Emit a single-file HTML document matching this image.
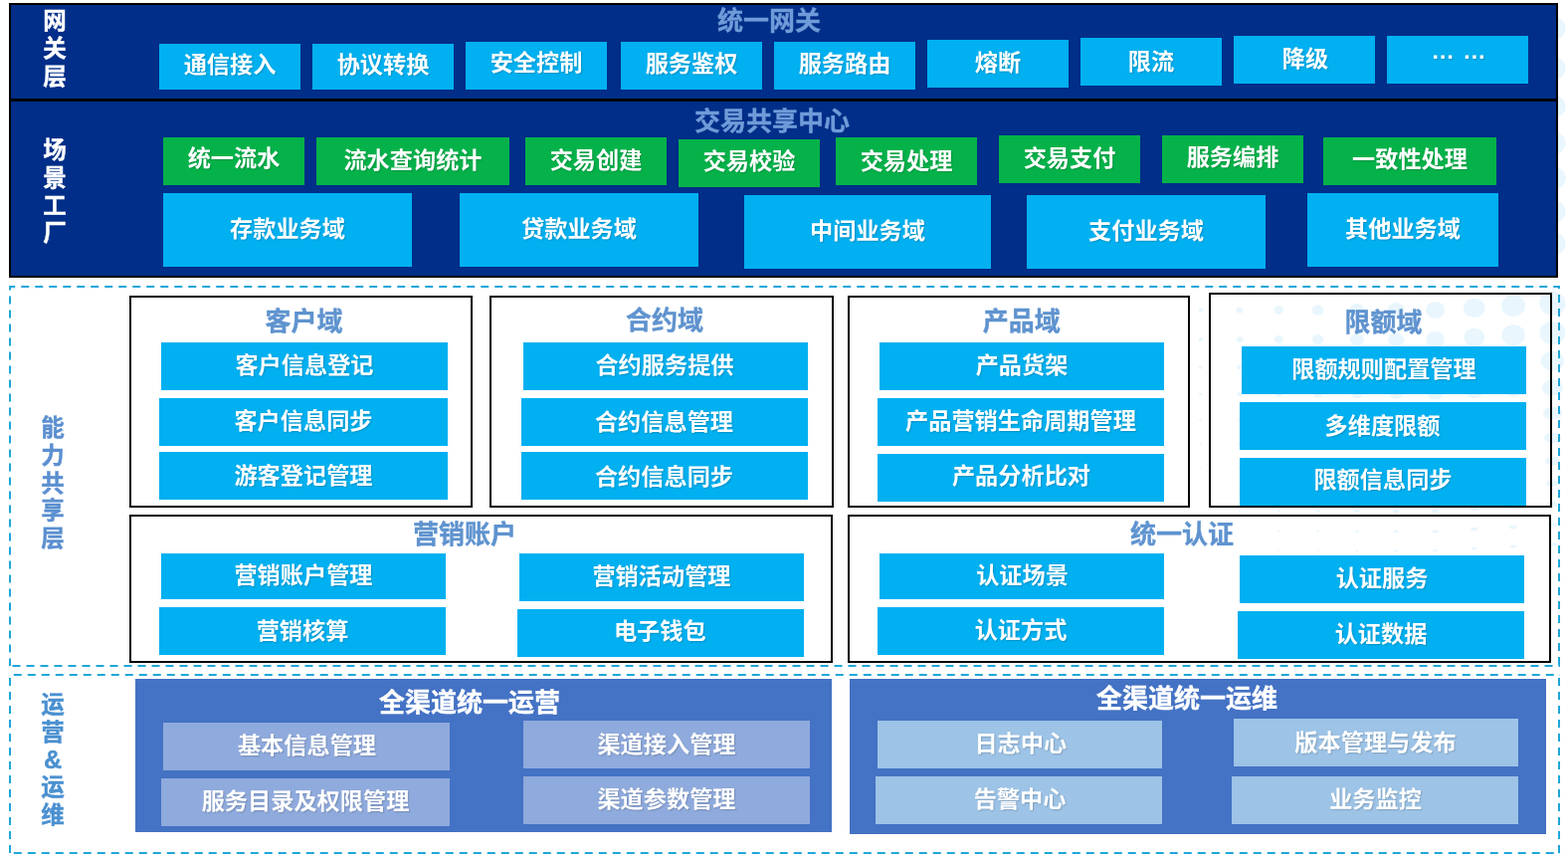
<!DOCTYPE html>
<html lang="zh-CN"><head><meta charset="utf-8"><title>架构图</title>
<style>
html,body{margin:0;padding:0;background:#fff;}
body{width:1576px;height:864px;position:relative;overflow:hidden;font-family:"Liberation Sans", "Noto Sans CJK SC", sans-serif;}
.b{position:absolute;box-sizing:border-box;display:flex;align-items:center;justify-content:center;white-space:nowrap;}
.b span{display:block;line-height:1;filter:blur(0.35px);text-shadow:1px 1px 1.5px rgba(0,0,0,.18);}
.t{-webkit-text-stroke:0.35px currentColor;filter:blur(0.35px);position:absolute;transform:translate(-50%,-50%);white-space:nowrap;line-height:1;}
.v{-webkit-text-stroke:0.4px currentColor;filter:blur(0.35px);position:absolute;transform:translate(-50%,-50%);font-weight:700;text-align:center;width:1.3em;word-break:break-all;white-space:normal;}
.v .amp{font-size:1.07em;line-height:0;}
.ov{position:absolute;left:0;top:0;pointer-events:none;}
</style></head><body>
<svg class="ov" width="1576" height="864" viewBox="0 0 1576 864"><g fill="#e9f6fd"><ellipse cx="1206.7" cy="35.0" rx="2.3" ry="2.1"/><ellipse cx="1246.0" cy="35.0" rx="3.5" ry="3.1"/><ellipse cx="1285.3" cy="35.0" rx="4.7" ry="4.2"/><ellipse cx="1324.6" cy="35.0" rx="5.9" ry="5.3"/><ellipse cx="1363.9" cy="35.0" rx="7.2" ry="6.4"/><ellipse cx="1403.2" cy="35.0" rx="8.4" ry="7.5"/><ellipse cx="1442.5" cy="35.0" rx="9.6" ry="8.6"/><ellipse cx="1481.8" cy="32.8" rx="10.8" ry="9.7"/><ellipse cx="1521.1" cy="30.7" rx="12.0" ry="10.8"/><ellipse cx="1560.4" cy="28.5" rx="13.2" ry="11.9"/><ellipse cx="1599.7" cy="26.3" rx="14.5" ry="13.0"/><ellipse cx="1206.7" cy="75.1" rx="2.3" ry="2.1"/><ellipse cx="1246.0" cy="75.1" rx="3.5" ry="3.1"/><ellipse cx="1285.3" cy="75.1" rx="4.7" ry="4.2"/><ellipse cx="1324.6" cy="75.1" rx="5.9" ry="5.3"/><ellipse cx="1363.9" cy="75.1" rx="7.2" ry="6.4"/><ellipse cx="1403.2" cy="75.1" rx="8.4" ry="7.5"/><ellipse cx="1442.5" cy="75.1" rx="9.6" ry="8.6"/><ellipse cx="1481.8" cy="72.9" rx="10.8" ry="9.7"/><ellipse cx="1521.1" cy="70.8" rx="12.0" ry="10.8"/><ellipse cx="1560.4" cy="68.6" rx="13.2" ry="11.9"/><ellipse cx="1599.7" cy="66.5" rx="14.5" ry="13.0"/><ellipse cx="1206.7" cy="113.5" rx="2.3" ry="2.1"/><ellipse cx="1246.0" cy="113.5" rx="3.5" ry="3.1"/><ellipse cx="1285.3" cy="113.5" rx="4.7" ry="4.2"/><ellipse cx="1324.6" cy="113.5" rx="5.9" ry="5.3"/><ellipse cx="1363.9" cy="113.5" rx="7.2" ry="6.4"/><ellipse cx="1403.2" cy="113.5" rx="8.4" ry="7.5"/><ellipse cx="1442.5" cy="113.5" rx="9.6" ry="8.6"/><ellipse cx="1481.8" cy="111.3" rx="10.8" ry="9.7"/><ellipse cx="1521.1" cy="109.2" rx="12.0" ry="10.8"/><ellipse cx="1560.4" cy="107.0" rx="13.2" ry="11.9"/><ellipse cx="1599.7" cy="104.9" rx="14.5" ry="13.0"/><ellipse cx="1206.7" cy="150.2" rx="2.3" ry="2.1"/><ellipse cx="1246.0" cy="150.2" rx="3.5" ry="3.1"/><ellipse cx="1285.3" cy="150.2" rx="4.7" ry="4.2"/><ellipse cx="1324.6" cy="150.2" rx="5.9" ry="5.3"/><ellipse cx="1363.9" cy="150.2" rx="7.2" ry="6.4"/><ellipse cx="1403.2" cy="150.2" rx="8.4" ry="7.5"/><ellipse cx="1442.5" cy="150.2" rx="9.6" ry="8.6"/><ellipse cx="1481.8" cy="148.1" rx="10.8" ry="9.7"/><ellipse cx="1521.1" cy="145.9" rx="12.0" ry="10.8"/><ellipse cx="1560.4" cy="143.8" rx="13.2" ry="11.9"/><ellipse cx="1599.7" cy="141.6" rx="14.5" ry="13.0"/><ellipse cx="1206.7" cy="185.4" rx="2.3" ry="2.1"/><ellipse cx="1246.0" cy="185.4" rx="3.5" ry="3.1"/><ellipse cx="1285.3" cy="185.4" rx="4.7" ry="4.2"/><ellipse cx="1324.6" cy="185.4" rx="5.9" ry="5.3"/><ellipse cx="1363.9" cy="185.4" rx="7.2" ry="6.4"/><ellipse cx="1403.2" cy="185.4" rx="8.4" ry="7.5"/><ellipse cx="1442.5" cy="185.4" rx="9.6" ry="8.6"/><ellipse cx="1481.8" cy="183.2" rx="10.8" ry="9.7"/><ellipse cx="1521.1" cy="181.1" rx="12.0" ry="10.8"/><ellipse cx="1560.4" cy="178.9" rx="13.2" ry="11.9"/><ellipse cx="1599.7" cy="176.7" rx="14.5" ry="13.0"/><ellipse cx="1206.7" cy="219.0" rx="2.3" ry="2.1"/><ellipse cx="1246.0" cy="219.0" rx="3.5" ry="3.1"/><ellipse cx="1285.3" cy="219.0" rx="4.7" ry="4.2"/><ellipse cx="1324.6" cy="219.0" rx="5.9" ry="5.3"/><ellipse cx="1363.9" cy="219.0" rx="7.2" ry="6.4"/><ellipse cx="1403.2" cy="219.0" rx="8.4" ry="7.5"/><ellipse cx="1442.5" cy="219.0" rx="9.6" ry="8.6"/><ellipse cx="1481.8" cy="216.9" rx="10.8" ry="9.7"/><ellipse cx="1521.1" cy="214.7" rx="12.0" ry="10.8"/><ellipse cx="1560.4" cy="212.6" rx="13.2" ry="11.9"/><ellipse cx="1599.7" cy="210.4" rx="14.5" ry="13.0"/><ellipse cx="1206.7" cy="251.2" rx="2.3" ry="2.1"/><ellipse cx="1246.0" cy="251.2" rx="3.5" ry="3.1"/><ellipse cx="1285.3" cy="251.2" rx="4.7" ry="4.2"/><ellipse cx="1324.6" cy="251.2" rx="5.9" ry="5.3"/><ellipse cx="1363.9" cy="251.2" rx="7.2" ry="6.4"/><ellipse cx="1403.2" cy="251.2" rx="8.4" ry="7.5"/><ellipse cx="1442.5" cy="251.2" rx="9.6" ry="8.6"/><ellipse cx="1481.8" cy="249.1" rx="10.8" ry="9.7"/><ellipse cx="1521.1" cy="246.9" rx="12.0" ry="10.8"/><ellipse cx="1560.4" cy="244.8" rx="13.2" ry="11.9"/><ellipse cx="1599.7" cy="242.6" rx="14.5" ry="13.0"/><ellipse cx="1599.7" cy="273.4" rx="14.5" ry="13.0"/><ellipse cx="1206.7" cy="311.5" rx="2.3" ry="2.1"/><ellipse cx="1246.0" cy="311.5" rx="3.5" ry="3.1"/><ellipse cx="1285.3" cy="311.5" rx="4.7" ry="4.2"/><ellipse cx="1324.6" cy="311.5" rx="5.9" ry="5.3"/><ellipse cx="1363.9" cy="311.5" rx="7.2" ry="6.4"/><ellipse cx="1403.2" cy="311.5" rx="8.4" ry="7.5"/><ellipse cx="1442.5" cy="311.5" rx="9.6" ry="8.6"/><ellipse cx="1481.8" cy="309.4" rx="10.8" ry="9.7"/><ellipse cx="1521.1" cy="307.2" rx="12.0" ry="10.8"/><ellipse cx="1560.4" cy="305.0" rx="13.2" ry="11.9"/><ellipse cx="1599.7" cy="302.9" rx="14.5" ry="13.0"/><ellipse cx="1206.7" cy="341.0" rx="2.2" ry="1.9"/><ellipse cx="1246.0" cy="341.0" rx="3.4" ry="2.9"/><ellipse cx="1285.3" cy="341.0" rx="4.5" ry="4.0"/><ellipse cx="1324.6" cy="341.0" rx="5.7" ry="5.0"/><ellipse cx="1363.9" cy="341.0" rx="6.9" ry="6.0"/><ellipse cx="1403.2" cy="341.0" rx="8.1" ry="7.0"/><ellipse cx="1442.5" cy="341.0" rx="9.2" ry="8.1"/><ellipse cx="1481.8" cy="338.8" rx="10.5" ry="9.2"/><ellipse cx="1521.1" cy="336.7" rx="11.8" ry="10.4"/><ellipse cx="1560.4" cy="334.5" rx="13.0" ry="11.6"/><ellipse cx="1599.7" cy="332.4" rx="14.4" ry="12.8"/><ellipse cx="1206.7" cy="369.1" rx="2.0" ry="1.6"/><ellipse cx="1246.0" cy="369.1" rx="3.0" ry="2.4"/><ellipse cx="1285.3" cy="369.1" rx="4.1" ry="3.3"/><ellipse cx="1324.6" cy="369.1" rx="5.2" ry="4.1"/><ellipse cx="1363.9" cy="369.1" rx="6.2" ry="5.0"/><ellipse cx="1403.2" cy="369.1" rx="7.3" ry="5.8"/><ellipse cx="1442.5" cy="369.1" rx="8.3" ry="6.7"/><ellipse cx="1481.8" cy="367.0" rx="9.5" ry="7.7"/><ellipse cx="1521.1" cy="364.8" rx="10.6" ry="8.6"/><ellipse cx="1560.4" cy="362.7" rx="11.8" ry="9.7"/><ellipse cx="1599.7" cy="360.5" rx="13.0" ry="10.7"/><ellipse cx="1206.7" cy="396.0" rx="1.8" ry="1.3"/><ellipse cx="1246.0" cy="396.0" rx="2.7" ry="2.0"/><ellipse cx="1285.3" cy="396.0" rx="3.7" ry="2.7"/><ellipse cx="1324.6" cy="396.0" rx="4.6" ry="3.4"/><ellipse cx="1363.9" cy="396.0" rx="5.6" ry="4.1"/><ellipse cx="1403.2" cy="396.0" rx="6.5" ry="4.8"/><ellipse cx="1442.5" cy="396.0" rx="7.5" ry="5.5"/><ellipse cx="1481.8" cy="393.9" rx="8.5" ry="6.3"/><ellipse cx="1521.1" cy="391.7" rx="9.6" ry="7.1"/><ellipse cx="1560.4" cy="389.6" rx="10.6" ry="8.0"/><ellipse cx="1599.7" cy="387.4" rx="11.7" ry="8.8"/><ellipse cx="1206.7" cy="421.7" rx="1.6" ry="1.1"/><ellipse cx="1246.0" cy="421.7" rx="2.4" ry="1.6"/><ellipse cx="1285.3" cy="421.7" rx="3.3" ry="2.2"/><ellipse cx="1324.6" cy="421.7" rx="4.1" ry="2.8"/><ellipse cx="1363.9" cy="421.7" rx="5.0" ry="3.3"/><ellipse cx="1403.2" cy="421.7" rx="5.8" ry="3.9"/><ellipse cx="1442.5" cy="421.7" rx="6.7" ry="4.5"/><ellipse cx="1481.8" cy="419.6" rx="7.6" ry="5.1"/><ellipse cx="1521.1" cy="417.4" rx="8.5" ry="5.8"/><ellipse cx="1560.4" cy="415.2" rx="9.5" ry="6.5"/><ellipse cx="1599.7" cy="413.1" rx="10.5" ry="7.2"/><ellipse cx="1206.7" cy="446.2" rx="1.4" ry="0.9"/><ellipse cx="1246.0" cy="446.2" rx="2.1" ry="1.3"/><ellipse cx="1285.3" cy="446.2" rx="2.9" ry="1.8"/><ellipse cx="1324.6" cy="446.2" rx="3.6" ry="2.2"/><ellipse cx="1363.9" cy="446.2" rx="4.4" ry="2.7"/><ellipse cx="1403.2" cy="446.2" rx="5.1" ry="3.1"/><ellipse cx="1442.5" cy="446.2" rx="5.9" ry="3.6"/><ellipse cx="1481.8" cy="444.1" rx="6.7" ry="4.1"/><ellipse cx="1521.1" cy="441.9" rx="7.5" ry="4.7"/><ellipse cx="1560.4" cy="439.8" rx="8.4" ry="5.3"/><ellipse cx="1599.7" cy="437.6" rx="9.3" ry="5.9"/><ellipse cx="1206.7" cy="469.6" rx="1.2" ry="0.7"/><ellipse cx="1246.0" cy="469.6" rx="1.9" ry="1.0"/><ellipse cx="1285.3" cy="469.6" rx="2.5" ry="1.4"/><ellipse cx="1324.6" cy="469.6" rx="3.2" ry="1.7"/><ellipse cx="1363.9" cy="469.6" rx="3.8" ry="2.1"/><ellipse cx="1403.2" cy="469.6" rx="4.5" ry="2.5"/><ellipse cx="1442.5" cy="469.6" rx="5.1" ry="2.8"/><ellipse cx="1481.8" cy="467.5" rx="5.9" ry="3.3"/><ellipse cx="1521.1" cy="465.4" rx="6.6" ry="3.7"/><ellipse cx="1560.4" cy="463.2" rx="7.4" ry="4.2"/><ellipse cx="1599.7" cy="461.0" rx="8.1" ry="4.7"/><ellipse cx="1246.0" cy="492.0" rx="1.6" ry="0.8"/><ellipse cx="1285.3" cy="492.0" rx="2.2" ry="1.1"/><ellipse cx="1324.6" cy="492.0" rx="2.7" ry="1.4"/><ellipse cx="1363.9" cy="492.0" rx="3.3" ry="1.6"/><ellipse cx="1403.2" cy="492.0" rx="3.9" ry="1.9"/><ellipse cx="1442.5" cy="492.0" rx="4.4" ry="2.2"/><ellipse cx="1481.8" cy="489.9" rx="5.0" ry="2.5"/><ellipse cx="1521.1" cy="487.7" rx="5.7" ry="2.9"/><ellipse cx="1560.4" cy="485.6" rx="6.4" ry="3.3"/><ellipse cx="1599.7" cy="483.4" rx="7.1" ry="3.7"/><ellipse cx="1246.0" cy="513.4" rx="1.4" ry="0.7"/><ellipse cx="1285.3" cy="513.4" rx="1.8" ry="0.9"/><ellipse cx="1324.6" cy="513.4" rx="2.3" ry="1.2"/><ellipse cx="1363.9" cy="513.4" rx="2.8" ry="1.4"/><ellipse cx="1403.2" cy="513.4" rx="3.3" ry="1.6"/><ellipse cx="1442.5" cy="513.4" rx="3.7" ry="1.9"/><ellipse cx="1481.8" cy="511.2" rx="4.3" ry="2.1"/><ellipse cx="1521.1" cy="509.1" rx="4.8" ry="2.4"/><ellipse cx="1560.4" cy="506.9" rx="5.4" ry="2.7"/><ellipse cx="1599.7" cy="504.8" rx="6.0" ry="3.0"/><ellipse cx="1285.3" cy="533.8" rx="1.5" ry="0.8"/><ellipse cx="1324.6" cy="533.8" rx="1.9" ry="1.0"/><ellipse cx="1363.9" cy="533.8" rx="2.3" ry="1.1"/><ellipse cx="1403.2" cy="533.8" rx="2.7" ry="1.3"/><ellipse cx="1442.5" cy="533.8" rx="3.1" ry="1.5"/><ellipse cx="1481.8" cy="531.6" rx="3.5" ry="1.8"/><ellipse cx="1521.1" cy="529.5" rx="4.0" ry="2.0"/><ellipse cx="1560.4" cy="527.3" rx="4.5" ry="2.3"/><ellipse cx="1599.7" cy="525.2" rx="5.1" ry="2.5"/><ellipse cx="1285.3" cy="553.3" rx="1.2" ry="0.6"/><ellipse cx="1324.6" cy="553.3" rx="1.5" ry="0.8"/><ellipse cx="1363.9" cy="553.3" rx="1.8" ry="0.9"/><ellipse cx="1403.2" cy="553.3" rx="2.1" ry="1.1"/><ellipse cx="1442.5" cy="553.3" rx="2.5" ry="1.2"/><ellipse cx="1481.8" cy="551.1" rx="2.8" ry="1.4"/><ellipse cx="1521.1" cy="549.0" rx="3.2" ry="1.6"/><ellipse cx="1560.4" cy="546.8" rx="3.7" ry="1.8"/><ellipse cx="1599.7" cy="544.6" rx="4.1" ry="2.1"/></g></svg>
<div class="b " style="left:9px;top:3px;width:1557px;height:98px;background:#002e88;border:2px solid #000;"></div>
<div class="b " style="left:9px;top:100px;width:1557px;height:179px;background:#002e88;border:2px solid #000;"></div>
<div class="v" style="left:55px;top:50px;font-size:23.5px;color:#fff;line-height:27.75px">网关层</div>
<div class="v" style="left:55px;top:193px;font-size:23.5px;color:#fff;line-height:27.75px">场景工厂</div>
<div class="t" style="left:773px;top:21.4px;font-size:26px;color:#6f9bd8;font-weight:700;">统一网关</div>
<div class="t" style="left:776px;top:122px;font-size:26px;color:#6f9bd8;font-weight:700;">交易共享中心</div>
<div class="b " style="left:160px;top:44px;width:142px;height:46px;background:#00b0f0;"><span style="font-size:23.2px;color:#fff;font-weight:700;transform:translate(0.0px,-0.90px)">通信接入</span></div>
<div class="b " style="left:314px;top:44px;width:142px;height:46px;background:#00b0f0;"><span style="font-size:23.2px;color:#fff;font-weight:700;transform:translate(0.0px,-0.90px)">协议转换</span></div>
<div class="b " style="left:468px;top:42px;width:142px;height:48px;background:#00b0f0;"><span style="font-size:23.2px;color:#fff;font-weight:700;transform:translate(0.0px,-1.90px)">安全控制</span></div>
<div class="b " style="left:624px;top:42px;width:142px;height:48px;background:#00b0f0;"><span style="font-size:23.2px;color:#fff;font-weight:700;transform:translate(0.0px,-1.40px)">服务鉴权</span></div>
<div class="b " style="left:778px;top:42px;width:142px;height:48px;background:#00b0f0;"><span style="font-size:23.2px;color:#fff;font-weight:700;transform:translate(0.0px,-1.40px)">服务路由</span></div>
<div class="b " style="left:932px;top:40px;width:142px;height:48px;background:#00b0f0;"><span style="font-size:23.2px;color:#fff;font-weight:700;transform:translate(0.0px,-0.40px)">熔断</span></div>
<div class="b " style="left:1086px;top:38px;width:142px;height:48px;background:#00b0f0;"><span style="font-size:23.2px;color:#fff;font-weight:700;transform:translate(0.0px,0.60px)">限流</span></div>
<div class="b " style="left:1240px;top:36px;width:142px;height:48px;background:#00b0f0;"><span style="font-size:23.2px;color:#fff;font-weight:700;transform:translate(1.0px,-0.40px)">降级</span></div>
<div class="b " style="left:1394px;top:36px;width:142px;height:48px;background:#00b0f0;"><span style="font-size:23.4px;color:#fff;font-weight:700;transform:translate(1.1px,-8.00px)"><b style="word-spacing:1.7px;font-weight:700">… …</b></span></div>
<div class="b " style="left:164px;top:138px;width:142px;height:48px;background:#05b24a;"><span style="font-size:23.2px;color:#fff;font-weight:700;transform:translate(0.0px,-1.90px)">统一流水</span></div>
<div class="b " style="left:318px;top:138px;width:194px;height:48px;background:#05b24a;"><span style="font-size:23.2px;color:#fff;font-weight:700;transform:translate(0.0px,0.35px)">流水查询统计</span></div>
<div class="b " style="left:528px;top:138px;width:142px;height:48px;background:#05b24a;"><span style="font-size:23.2px;color:#fff;font-weight:700;transform:translate(0.0px,-0.15px)">交易创建</span></div>
<div class="b " style="left:682px;top:140px;width:142px;height:48px;background:#05b24a;"><span style="font-size:23.2px;color:#fff;font-weight:700;transform:translate(0.0px,-0.90px)">交易校验</span></div>
<div class="b " style="left:840px;top:138px;width:142px;height:48px;background:#05b24a;"><span style="font-size:23.2px;color:#fff;font-weight:700;transform:translate(0.0px,0.60px)">交易处理</span></div>
<div class="b " style="left:1004px;top:136px;width:142px;height:48px;background:#05b24a;"><span style="font-size:23.2px;color:#fff;font-weight:700;transform:translate(0.0px,-0.40px)">交易支付</span></div>
<div class="b " style="left:1168px;top:136px;width:142px;height:48px;background:#05b24a;"><span style="font-size:23.2px;color:#fff;font-weight:700;transform:translate(0.0px,-0.65px)">服务编排</span></div>
<div class="b " style="left:1330px;top:138px;width:174px;height:48px;background:#05b24a;"><span style="font-size:23.2px;color:#fff;font-weight:700;transform:translate(0.0px,-0.90px)">一致性处理</span></div>
<div class="b " style="left:164px;top:194px;width:250px;height:74px;background:#00b0f0;"><span style="font-size:23.2px;color:#fff;font-weight:700;transform:translate(0.0px,0.00px)">存款业务域</span></div>
<div class="b " style="left:462px;top:194px;width:240px;height:74px;background:#00b0f0;"><span style="font-size:23.2px;color:#fff;font-weight:700;transform:translate(0.0px,-0.40px)">贷款业务域</span></div>
<div class="b " style="left:748px;top:196px;width:248px;height:74px;background:#00b0f0;"><span style="font-size:23.2px;color:#fff;font-weight:700;transform:translate(0.0px,-0.15px)">中间业务域</span></div>
<div class="b " style="left:1032px;top:196px;width:240px;height:74px;background:#00b0f0;"><span style="font-size:23.2px;color:#fff;font-weight:700;transform:translate(0.0px,0.10px)">支付业务域</span></div>
<div class="b " style="left:1314px;top:194px;width:192px;height:74px;background:#00b0f0;"><span style="font-size:23.2px;color:#fff;font-weight:700;transform:translate(0.0px,-0.40px)">其他业务域</span></div>
<svg class="ov" width="1576" height="864" viewBox="0 0 1576 864"><path d="M9 288H1568" stroke="#1fa6d8" stroke-width="2" stroke-dasharray="8 6" stroke-dashoffset="1.75" fill="none"/><path d="M9 669H1568" stroke="#1fa6d8" stroke-width="2" stroke-dasharray="8 6" stroke-dashoffset="10.5" fill="none"/><path d="M10 288V669" stroke="#1fa6d8" stroke-width="2" stroke-dasharray="8 6" stroke-dashoffset="4.5" fill="none"/><path d="M1567 288V669" stroke="#1fa6d8" stroke-width="2" stroke-dasharray="8 6" stroke-dashoffset="6" fill="none"/><path d="M9 678H1568" stroke="#1fa6d8" stroke-width="2" stroke-dasharray="8 6" stroke-dashoffset="9.25" fill="none"/><path d="M9 857H1568" stroke="#1fa6d8" stroke-width="2" stroke-dasharray="8 6" stroke-dashoffset="9.25" fill="none"/><path d="M10 678V857" stroke="#1fa6d8" stroke-width="2" stroke-dasharray="8 6" stroke-dashoffset="11" fill="none"/><path d="M1567 678V857" stroke="#1fa6d8" stroke-width="2" stroke-dasharray="8 6" stroke-dashoffset="11" fill="none"/></svg>
<div class="v" style="left:53px;top:486px;font-size:23.5px;color:#5b8fd0;line-height:27.75px">能力共享层</div>
<div class="v" style="left:53px;top:764px;font-size:23.5px;color:#4a90d0;line-height:27.75px">运营<span class="amp">&amp;</span>运维</div>
<div class="b " style="left:130px;top:297px;width:345px;height:213px;background:transparent;border:2px solid #000;"></div>
<div class="b " style="left:492px;top:297px;width:345.5px;height:213px;background:transparent;border:2px solid #000;"></div>
<div class="b " style="left:851.5px;top:297px;width:344.5px;height:213px;background:transparent;border:2px solid #000;"></div>
<div class="b " style="left:1215px;top:294px;width:345px;height:216px;background:transparent;border:2px solid #000;"></div>
<div class="b " style="left:130px;top:517px;width:707px;height:149px;background:transparent;border:2px solid #000;"></div>
<div class="b " style="left:851.5px;top:517px;width:707.5px;height:149px;background:transparent;border:2px solid #000;"></div>
<div class="t" style="left:305.5px;top:322.5px;font-size:26px;color:#5f93cf;font-weight:700;">客户域</div>
<div class="t" style="left:668px;top:322px;font-size:26px;color:#5f93cf;font-weight:700;">合约域</div>
<div class="t" style="left:1026.7px;top:322.5px;font-size:26px;color:#5f93cf;font-weight:700;">产品域</div>
<div class="t" style="left:1390.5px;top:324px;font-size:26px;color:#5f93cf;font-weight:700;">限额域</div>
<div class="t" style="left:467px;top:537.3px;font-size:26px;color:#5f93cf;font-weight:700;">营销账户</div>
<div class="t" style="left:1188px;top:537px;font-size:26px;color:#5f93cf;font-weight:700;">统一认证</div>
<div class="b " style="left:162px;top:344px;width:288px;height:48px;background:#00b0f0;"><span style="font-size:23.2px;color:#fff;font-weight:700;transform:translate(0.0px,0.00px)">客户信息登记</span></div>
<div class="b " style="left:160px;top:400px;width:290px;height:48px;background:#00b0f0;"><span style="font-size:23.2px;color:#fff;font-weight:700;transform:translate(0.0px,0.10px)">客户信息同步</span></div>
<div class="b " style="left:160px;top:454px;width:290px;height:48px;background:#00b0f0;"><span style="font-size:23.2px;color:#fff;font-weight:700;transform:translate(0.0px,1.10px)">游客登记管理</span></div>
<div class="b " style="left:526px;top:344px;width:286px;height:48px;background:#00b0f0;"><span style="font-size:23.2px;color:#fff;font-weight:700;transform:translate(-1.0px,0.00px)">合约服务提供</span></div>
<div class="b " style="left:524px;top:400px;width:288px;height:48px;background:#00b0f0;"><span style="font-size:23.2px;color:#fff;font-weight:700;transform:translate(-0.5px,0.50px)">合约信息管理</span></div>
<div class="b " style="left:524px;top:454px;width:288px;height:48px;background:#00b0f0;"><span style="font-size:23.2px;color:#fff;font-weight:700;transform:translate(-0.5px,1.50px)">合约信息同步</span></div>
<div class="b " style="left:884px;top:344px;width:286px;height:48px;background:#00b0f0;"><span style="font-size:23.2px;color:#fff;font-weight:700;transform:translate(0.0px,0.00px)">产品货架</span></div>
<div class="b " style="left:882px;top:400px;width:288px;height:48px;background:#00b0f0;"><span style="font-size:23.2px;color:#fff;font-weight:700;transform:translate(0.0px,0.00px)">产品营销生命周期管理</span></div>
<div class="b " style="left:882px;top:456px;width:288px;height:48px;background:#00b0f0;"><span style="font-size:23.2px;color:#fff;font-weight:700;transform:translate(0.5px,-1.50px)">产品分析比对</span></div>
<div class="b " style="left:1248px;top:348px;width:286px;height:48px;background:#00b0f0;"><span style="font-size:23.2px;color:#fff;font-weight:700;transform:translate(0.0px,0.00px)">限额规则配置管理</span></div>
<div class="b " style="left:1246px;top:404px;width:288px;height:48px;background:#00b0f0;"><span style="font-size:23.2px;color:#fff;font-weight:700;transform:translate(-0.5px,0.90px)">多维度限额</span></div>
<div class="b " style="left:1246px;top:460px;width:288px;height:48px;background:#00b0f0;"><span style="font-size:23.2px;color:#fff;font-weight:700;transform:translate(0.0px,-1.00px)">限额信息同步</span></div>
<div class="b " style="left:162px;top:556px;width:286px;height:46px;background:#00b0f0;"><span style="font-size:23.2px;color:#fff;font-weight:700;transform:translate(0.0px,0.00px)">营销账户管理</span></div>
<div class="b " style="left:160px;top:610px;width:288px;height:48px;background:#00b0f0;"><span style="font-size:23.2px;color:#fff;font-weight:700;transform:translate(0.0px,1.20px)">营销核算</span></div>
<div class="b " style="left:522px;top:556px;width:286px;height:48px;background:#00b0f0;"><span style="font-size:23.2px;color:#fff;font-weight:700;transform:translate(0.0px,0.00px)">营销活动管理</span></div>
<div class="b " style="left:520px;top:612px;width:288px;height:48px;background:#00b0f0;"><span style="font-size:23.2px;color:#fff;font-weight:700;transform:translate(-0.75px,-0.75px)">电子钱包</span></div>
<div class="b " style="left:884px;top:556px;width:286px;height:46px;background:#00b0f0;"><span style="font-size:23.2px;color:#fff;font-weight:700;transform:translate(0.5px,-0.50px)">认证场景</span></div>
<div class="b " style="left:882px;top:610px;width:288px;height:48px;background:#00b0f0;"><span style="font-size:23.2px;color:#fff;font-weight:700;transform:translate(0.0px,-0.50px)">认证方式</span></div>
<div class="b " style="left:1246px;top:558px;width:286px;height:48px;background:#00b0f0;"><span style="font-size:23.2px;color:#fff;font-weight:700;transform:translate(0.0px,0.00px)">认证服务</span></div>
<div class="b " style="left:1244px;top:614px;width:288px;height:48px;background:#00b0f0;"><span style="font-size:23.2px;color:#fff;font-weight:700;transform:translate(0.0px,0.00px)">认证数据</span></div>
<div class="b " style="left:136px;top:682px;width:700px;height:154px;background:#4472c4;"></div>
<div class="b " style="left:854px;top:682px;width:700px;height:156px;background:#4472c4;"></div>
<div class="t" style="left:472px;top:705.6px;font-size:26px;color:#fff;font-weight:700;">全渠道统一运营</div>
<div class="t" style="left:1193px;top:702px;font-size:26px;color:#fff;font-weight:700;">全渠道统一运维</div>
<div class="b " style="left:164px;top:726px;width:288px;height:48px;background:#8faadc;"><span style="font-size:23.2px;color:#fff;font-weight:700;transform:translate(0.5px,0.00px)">基本信息管理</span></div>
<div class="b " style="left:162px;top:782px;width:290px;height:48px;background:#8faadc;"><span style="font-size:23.2px;color:#fff;font-weight:700;transform:translate(0.0px,0.00px)">服务目录及权限管理</span></div>
<div class="b " style="left:526px;top:724px;width:288px;height:48px;background:#8faadc;"><span style="font-size:23.2px;color:#fff;font-weight:700;transform:translate(0.0px,0.70px)">渠道接入管理</span></div>
<div class="b " style="left:526px;top:780px;width:288px;height:48px;background:#8faadc;"><span style="font-size:23.2px;color:#fff;font-weight:700;transform:translate(0.0px,0.00px)">渠道参数管理</span></div>
<div class="b " style="left:882px;top:724px;width:286px;height:48px;background:#9dc3e6;"><span style="font-size:23.2px;color:#fff;font-weight:700;transform:translate(0.75px,0.00px)">日志中心</span></div>
<div class="b " style="left:880px;top:780px;width:288px;height:48px;background:#9dc3e6;"><span style="font-size:23.2px;color:#fff;font-weight:700;transform:translate(1.1px,0.00px)">告警中心</span></div>
<div class="b " style="left:1240px;top:722px;width:286px;height:48px;background:#9dc3e6;"><span style="font-size:23.2px;color:#fff;font-weight:700;transform:translate(-0.5px,1.00px)">版本管理与发布</span></div>
<div class="b " style="left:1238px;top:780px;width:288px;height:48px;background:#9dc3e6;"><span style="font-size:23.2px;color:#fff;font-weight:700;transform:translate(0.5px,0.40px)">业务监控</span></div>
</body></html>
